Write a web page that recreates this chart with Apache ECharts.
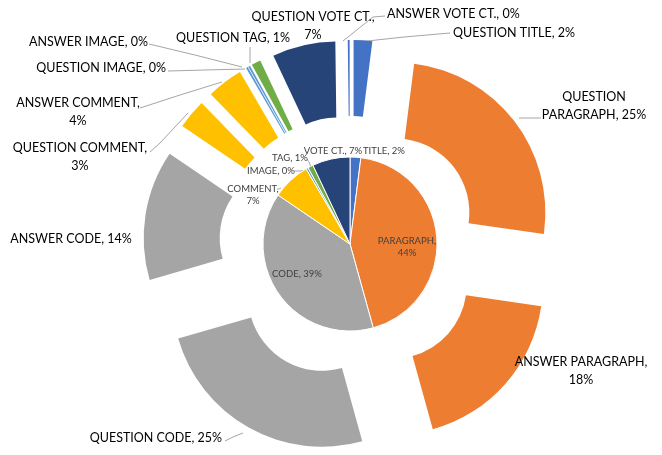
<!DOCTYPE html>
<html>
<head>
<meta charset="utf-8">
<script src="https://cdn.jsdelivr.net/npm/echarts@6/dist/echarts.min.js"></script>
<style>
  html, body { margin: 0; padding: 0; background: #fff; }
  #chart { width: 662px; height: 455px; }
</style>
</head>
<body>
<div id="chart"></div>
<script>
// inner pie: content type share (%)
var innerNames = ['TITLE', 'PARAGRAPH', 'CODE', 'COMMENT', 'IMAGE', 'TAG', 'VOTE CT.']
var innerValues = [2.0, 43.7, 38.8, 7.1, 0.4, 1.0, 7.0]
var innerColors = ['#4472C4', '#ED7D31', '#A5A5A5', '#FFC000', '#5B9BD5', '#70AD47', '#264478']

// outer ring: split by question / answer (%)
var outerNames = ['QUESTION TITLE', 'QUESTION PARAGRAPH', 'ANSWER PARAGRAPH', 'QUESTION CODE', 'ANSWER CODE',
  'QUESTION COMMENT', 'ANSWER COMMENT', 'QUESTION IMAGE', 'ANSWER IMAGE', 'QUESTION TAG',
  'QUESTION VOTE CT.', 'ANSWER VOTE CT.']
var outerValues = [2.0, 25.3, 18.4, 24.8, 14.0, 3.2, 3.9, 0.2, 0.2, 1.0, 6.8, 0.2]
var outerColors = ['#4472C4', '#ED7D31', '#ED7D31', '#A5A5A5', '#A5A5A5', '#FFC000', '#FFC000',
  '#5B9BD5', '#5B9BD5', '#70AD47', '#264478', '#4472C4']

// labels that Excel wrapped after the comma
var wrapAfterComma = ['QUESTION VOTE CT.', 'ANSWER PARAGRAPH', 'ANSWER COMMENT', 'QUESTION COMMENT', 'COMMENT', 'PARAGRAPH']

// where Excel put each data label: [x, y, align, leader line]
var outerLabelAt = [
  [453, 33, 'left', [[358, 42], [404, 37], [450, 33]]],
  [594, 106, 'center', [[519, 118], [530, 118], [541, 118]]],
  [581, 371, 'center', null],
  [222, 438, 'right', [[243, 433], [233, 437], [225, 441]]],
  [71, 239, 'center', null],
  [80, 157, 'center', [[188, 113], [160, 143], [150, 152]]],
  [78, 112, 'center', [[222, 82], [180, 95], [140, 108]]],
  [166, 68, 'right', [[245, 69], [205, 70], [168, 71]]],
  [148, 42, 'right', [[242, 67], [195, 55], [149, 44]]],
  [233, 38, 'center', [[250, 63], [250, 55], [250, 47]]],
  [313, 26, 'center', null],
  [387, 14, 'left', [[343, 41], [373, 17], [385, 16]]]
]
var innerLabelAt = [
  [363, 151, 'left', null],
  [407, 247, 'center', null],
  [297, 274, 'center', null],
  [253, 195, 'center', [[281, 188], [279, 189], [277, 189]]],
  [271, 171, 'center', [[307, 170], [300, 171], [294, 171]]],
  [290, 158, 'center', [[311, 167], [309, 162], [307, 159]]],
  [333, 151, 'center', null]
]

var CX = 350
var CY = 244
var RING_CY = 247
var EXPLODE = 57

function pctLabel(p) {
  var pct = Math.round(p.value) + '%'
  if (p.name === 'QUESTION PARAGRAPH') return 'QUESTION\nPARAGRAPH, ' + pct
  if (wrapAfterComma.indexOf(p.name) >= 0) return p.name + ',\n' + pct
  return p.name + ', ' + pct
}

function placeLabel(p) {
  var at = (p.seriesIndex === 0 ? innerLabelAt : outerLabelAt)[p.dataIndex]
  var res = { x: at[0], y: at[1], align: at[2], verticalAlign: 'middle' }
  if (at[3]) res.labelLinePoints = at[3]
  return res
}

var series = [{
  name: 'inner',
  type: 'pie',
  center: [CX, CY],
  radius: [0, 87],
  startAngle: 90,
  clockwise: true,
  silent: true,
  itemStyle: { borderColor: '#ffffff', borderWidth: 1 },
  label: {
    show: true,
    formatter: pctLabel,
    fontSize: 9.5,
    color: '#404040',
    lineHeight: 12,
    width: 90,
    overflow: 'none',
    position: 'outside'
  },
  labelLine: { lineStyle: { color: '#a6a6a6', width: 1 } },
  labelLayout: placeLabel,
  data: innerNames.map(function (n, i) {
    return {
      name: n,
      value: innerValues[i],
      itemStyle: { color: innerColors[i] },
      labelLine: { show: !!innerLabelAt[i][3] }
    }
  })
}]

// exploded outer ring: one pie per slice, each pushed out along its own bisector
var total = outerValues.reduce(function (a, b) { return a + b }, 0)
var cum = 0
outerValues.forEach(function (v, k) {
  var mid = (cum + v / 2) / total * Math.PI * 2
  cum += v
  series.push({
    name: outerNames[k],
    type: 'pie',
    center: [CX + EXPLODE * Math.sin(mid), RING_CY - EXPLODE * Math.cos(mid)],
    radius: [74, 150],
    startAngle: 90,
    clockwise: true,
    silent: true,
    label: {
      formatter: pctLabel,
      fontSize: 12.5,
      color: '#000000',
      lineHeight: 18,
      width: 160,
      overflow: 'none',
      position: 'outside'
    },
    labelLine: { lineStyle: { color: '#a6a6a6', width: 1 } },
    labelLayout: placeLabel,
    data: outerNames.map(function (n, i) {
      var own = i === k
      return {
        name: n,
        value: outerValues[i],
        itemStyle: { color: own ? outerColors[i] : 'rgba(0,0,0,0)' },
        label: { show: own },
        labelLine: { show: own && !!outerLabelAt[i][3] }
      }
    })
  })
})

var chart = echarts.init(document.getElementById('chart'))
chart.setOption({
  animation: false,
  backgroundColor: '#ffffff',
  textStyle: { fontFamily: 'Lato' },
  series: series
})
</script>
</body>
</html>
